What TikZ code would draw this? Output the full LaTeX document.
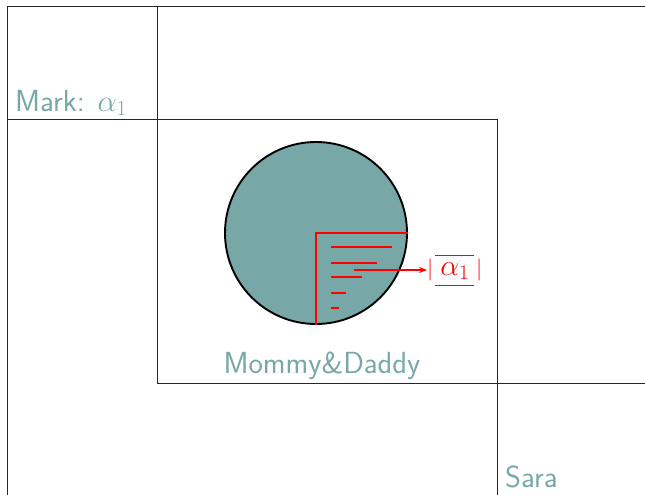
\RequirePackage{fix-cm}
\documentclass[tikz,border=0pt]{standalone}
\usetikzlibrary{arrows.meta}
\definecolor{teal1}{RGB}{120,167,168}
\tikzset{
  frame/.style={draw=black!85, line width=0.8pt},
  lbl/.style={text=teal1, inner sep=0pt, font=\sffamily\fontsize{30.5}{34}\selectfont},
  red1/.style={draw=red, line width=1.9pt},
}
\begin{document}
\begin{tikzpicture}[x=1pt,y=-1pt]
\useasboundingbox (0,0) rectangle (645,495);
% frame lines
\coordinate (tl) at (7,6);
\coordinate (tr) at (646,6);
\coordinate (bl) at (7,496);
\coordinate (m1) at (157,6);
\coordinate (m2) at (157,383);
\coordinate (h1) at (7,119);
\coordinate (h2) at (497,119);
\coordinate (s1) at (497,496);
\coordinate (r1) at (646,383);
\draw[frame] (bl) -- (tl) -- (tr);
\draw[frame] (m1) -- (m2) -- (r1);
\draw[frame] (h1) -- (h2) -- (s1);
% labels
\node[lbl, anchor=base west] (mark) at (15,111) {Mark:\hspace{0.42em}$\alpha_1$};
\node[lbl, anchor=base] (md) at (322,373) {Mommy\&Daddy};
\node[lbl, anchor=base west] (sara) at (505,487) {Sara};
% circle
\node[circle, draw=black, line width=1.9pt, fill=teal1, minimum size=182pt, inner sep=0pt] (c) at (316,233) {};
% red marks
\coordinate (rb) at (316,325);
\coordinate (rc) at (316,233);
\coordinate (rr) at (407.5,233);
\draw[red1] (rb) -- (rc) -- (rr);
\coordinate (l1a) at (331,247); \coordinate (l1b) at (392,247);
\coordinate (l2a) at (331,263); \coordinate (l2b) at (377,263);
\coordinate (l3a) at (331,277); \coordinate (l3b) at (362,277);
\coordinate (l4a) at (331,293); \coordinate (l4b) at (346,293);
\coordinate (l5a) at (331,308); \coordinate (l5b) at (339,308);
\draw[red1] (l1a) -- (l1b);
\draw[red1] (l2a) -- (l2b);
\draw[red1] (l3a) -- (l3b);
\draw[red1] (l4a) -- (l4b);
\draw[red1] (l5a) -- (l5b);
\node[text=red, inner sep=0pt, anchor=base west] (a1) at (427,275) {\fontsize{22}{26}\selectfont$|$\hspace{2pt}\fontsize{30}{34}\selectfont$\overline{\underline{\vrule height 18pt depth 9pt width 0pt\,\alpha_1\,}}$\hspace{2pt}\fontsize{22}{26}\selectfont$|$};
\coordinate (as) at (354,270);
\draw[draw=red, line width=1.3pt, -{Stealth[length=8pt,width=6pt]}] (as) -- (a1.west |- as);
\end{tikzpicture}
\end{document}
